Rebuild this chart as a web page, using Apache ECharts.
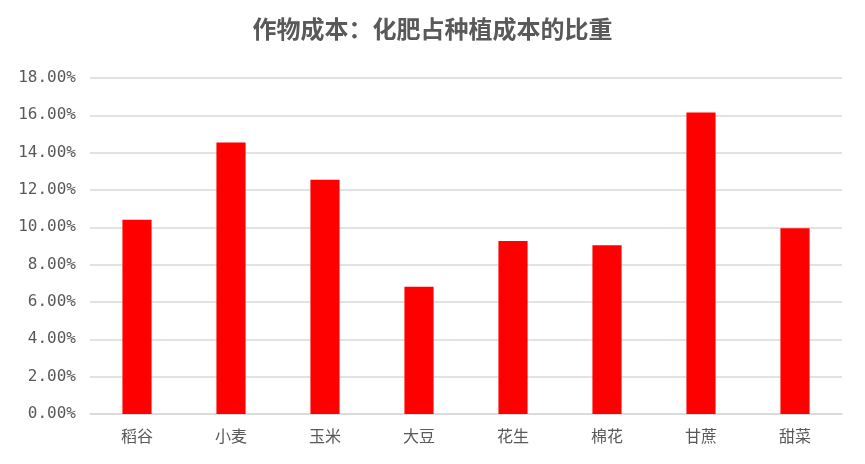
<!DOCTYPE html>
<html>
<head>
<meta charset="UTF-8">
<title>作物成本</title>
<script src="https://cdn.jsdelivr.net/npm/echarts@6/dist/echarts.min.js"></script>
<style>
  * { margin: 0; padding: 0; }
  #main { width: 865px; height: 464px; background: #fff; }
</style>
</head>
<body>
<div id="main"></div>
<script>
  // 作物类别和化肥占比（%）
  var crops = ['稻谷', '小麦', '玉米', '大豆', '花生', '棉花', '甘蔗', '甜菜'];
  var fertShare = [10.4, 14.55, 12.55, 6.82, 9.27, 9.04, 16.15, 9.95];

  var chart = echarts.init(document.getElementById('main'));
  chart.setOption({
    animation: false,
    title: {
      text: '作物成本：化肥占种植成本的比重',
      left: 'center',
      top: 12,
      textStyle: {
        fontFamily: 'Noto Sans CJK SC',
        fontSize: 24,
        fontWeight: 'bold',
        color: '#595959'
      }
    },
    grid: { left: 90, right: 23, top: 78, bottom: 50 },
    xAxis: {
      type: 'category',
      data: crops,
      axisLine: { lineStyle: { color: '#d9d9d9', width: 1.5 } },
      axisTick: { show: false },
      axisLabel: {
        color: '#595959',
        fontFamily: 'Noto Sans CJK SC',
        fontSize: 16,
        margin: 14
      }
    },
    yAxis: {
      type: 'value',
      min: 0,
      max: 18,
      interval: 2,
      axisLine: { show: false },
      axisTick: { show: false },
      splitLine: { lineStyle: { color: '#d9d9d9', width: 1.5 } },
      axisLabel: {
        color: '#595959',
        fontFamily: 'DejaVu Sans Mono',
        fontSize: 16,
        margin: 14,
        formatter: function (v) { return v.toFixed(2) + '%'; }
      }
    },
    series: [{
      type: 'bar',
      data: fertShare,
      barWidth: '31%',
      itemStyle: { color: '#ff0000' }
    }]
  });
</script>
</body>
</html>
